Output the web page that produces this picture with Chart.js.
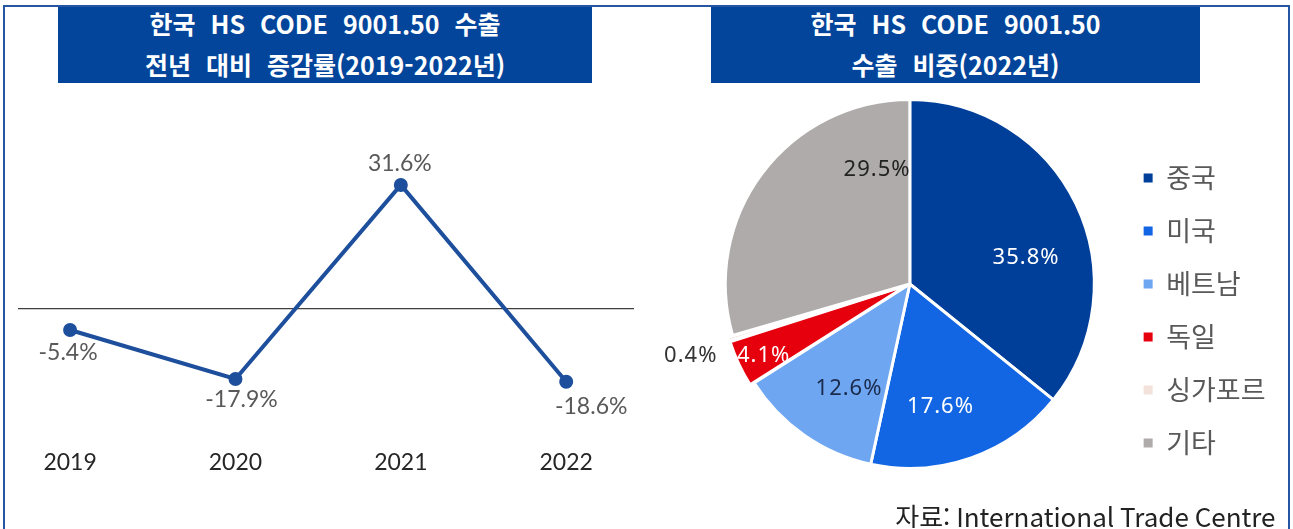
<!DOCTYPE html>
<html lang="ko">
<head>
<meta charset="utf-8">
<script src="https://cdn.jsdelivr.net/npm/chart.js@4.4.1/dist/chart.umd.min.js"></script>
<style>
  html, body { margin: 0; padding: 0; background: #fff; overflow: hidden; }
  body { width: 1293px; height: 529px; position: relative; font-family: "Noto Sans CJK KR", sans-serif; }
  .frame { position: absolute; left: 3px; top: 5px; width: 1287px; height: 600px; box-sizing: border-box;
           border: 2px solid #2456a4; border-bottom: none; }
  .head { position: absolute; top: 7px; height: 76px; background: #03459b; color: #fff; text-align: center;
          font-size: 25px; font-weight: 700; line-height: 41px; word-spacing: 8px; white-space: nowrap; }
  .head span { display: block; position: relative; top: -4px; }
  #lineWrap { position: absolute; left: 0; top: 90px; width: 650px; height: 416px; }
  #pieWrap { position: absolute; left: 650px; top: 93px; width: 643px; height: 435px; }
</style>
</head>
<body>
<div class="frame"></div>
<div class="head" style="left:58px; width:534px;"><span>한국 HS CODE 9001.50 수출<br>전년 대비 증감률(2019-2022년)</span></div>
<div class="head" style="left:711px; width:489px;"><span>한국 HS CODE 9001.50<br>수출 비중(2022년)</span></div>
<div id="lineWrap"><canvas id="lineChart"></canvas></div>
<div id="pieWrap"><canvas id="pieChart"></canvas></div>

<script>
// 전년 대비 증감률 (%)
const years = ['2019', '2020', '2021', '2022'];
const growth = [-5.4, -17.9, 31.6, -18.6];

// 2022년 수출 비중 (%)
const countries = ['중국', '미국', '베트남', '독일', '싱가포르', '기타'];
const shares = [35.8, 17.6, 12.6, 4.1, 0.4, 29.5];

const pieColors = ['#003f99', '#1266e3', '#6fa6f2', '#e6000e', '#f2e2d9', '#afabab'];
const pieTextColors = ['#ffffff', '#ffffff', '#1a2a4a', '#ffffff', '#333333', '#222222'];
// label shift from each slice's centre point
const pieLabelShift = [[33, 14], [0, 36], [-8, 29], [-58, 31], [-126, 43], [41, -59]];
const lineLabelShift = [[-2, 23], [6, 21], [-1, -21], [25, 25]];

const lineLabels = {
  id: 'lineLabels',
  afterDatasetsDraw(chart) {
    const ctx = chart.ctx;
    const pts = chart.getDatasetMeta(0).data;
    ctx.save();
    ctx.font = '23px Lato';
    ctx.fillStyle = '#595959';
    ctx.textAlign = 'center';
    ctx.textBaseline = 'middle';
    pts.forEach((p, i) => {
      ctx.fillText(growth[i].toFixed(1) + '%', p.x + lineLabelShift[i][0], p.y + lineLabelShift[i][1]);
    });
    ctx.restore();
  }
};

const pieLabels = {
  id: 'pieLabels',
  afterDatasetsDraw(chart) {
    const ctx = chart.ctx;
    const arcs = chart.getDatasetMeta(0).data;
    ctx.save();
    ctx.font = '22px "Noto Sans"';
    ctx.letterSpacing = '1px';
    ctx.textAlign = 'center';
    ctx.textBaseline = 'middle';
    arcs.forEach((a, i) => {
      const c = a.getCenterPoint();
      ctx.fillStyle = pieTextColors[i];
      ctx.fillText(shares[i].toFixed(1) + '%', c.x + pieLabelShift[i][0], c.y + pieLabelShift[i][1]);
    });
    ctx.restore();
  }
};

new Chart(document.getElementById('lineChart'), {
  type: 'line',
  data: {
    datasets: [{
      data: growth.map((v, i) => ({ x: i, y: v })),
      borderColor: '#1d4f9c',
      backgroundColor: '#1d4f9c',
      borderWidth: 4,
      pointRadius: 5,
      pointHoverRadius: 5,
      tension: 0
    }]
  },
  options: {
    responsive: true,
    maintainAspectRatio: false,
    animation: false,
    layout: { padding: { left: 18, right: 16, top: 62, bottom: 16 } },
    plugins: { legend: { display: false }, tooltip: { enabled: false } },
    scales: {
      x: {
        type: 'linear',
        min: -0.315,
        max: 3.41,
        grid: { display: false },
        border: { display: false },
        afterBuildTicks: s => { s.ticks = years.map((y, i) => ({ value: i })); },
        ticks: {
          callback: v => years[v],
          font: { family: 'Lato', size: 23 },
          color: '#262626',
          padding: 14,
          maxRotation: 0
        }
      },
      y: {
        min: -30,
        max: 40,
        ticks: { display: false, stepSize: 10 },
        border: { display: false },
        grid: {
          drawTicks: false,
          lineWidth: 1.3,
          color: c => c.tick.value === 0 ? '#3f3f3f' : 'rgba(0,0,0,0)'
        }
      }
    }
  },
  plugins: [lineLabels]
});

new Chart(document.getElementById('pieChart'), {
  type: 'pie',
  data: {
    labels: countries,
    datasets: [{
      data: shares,
      backgroundColor: pieColors,
      borderColor: '#ffffff',
      borderWidth: 3,
      offset: [0, 0, 0, 10, 10, 0]
    }]
  },
  options: {
    responsive: true,
    maintainAspectRatio: false,
    animation: false,
    layout: { padding: { left: 52, right: 17.5 } },
    plugins: {
      tooltip: { enabled: false },
      legend: {
        position: 'right',
        labels: {
          boxWidth: 9,
          boxHeight: 9,
          padding: 26,
          color: '#595959',
          font: { family: 'Noto Sans CJK KR', size: 27 },
          generateLabels: chart => Chart.overrides.doughnut.plugins.legend.labels.generateLabels(chart)
            .map(l => ({ ...l, lineWidth: 0 }))
        }
      },
      title: {
        display: true,
        position: 'bottom',
        align: 'end',
        text: '자료: International Trade Centre',
        color: '#222222',
        font: { family: 'Noto Sans CJK KR', size: 26, weight: 'normal', lineHeight: '20px' },
        padding: { top: 32, bottom: 1 }
      }
    }
  },
  plugins: [pieLabels]
});
</script>
</body>
</html>
